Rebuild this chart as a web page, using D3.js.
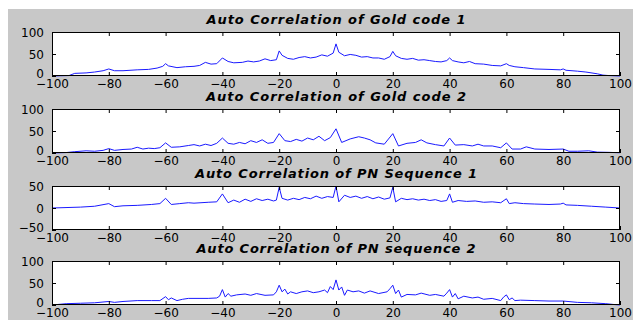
<!DOCTYPE html>
<html>
<head>
<meta charset="utf-8">
<script src="https://cdn.jsdelivr.net/npm/d3@7"></script>
<style>
html,body{margin:0;padding:0;background:#fff;}
svg{display:block;}
</style>
</head>
<body>
<svg id="chart" width="633" height="320"></svg>
<script>
// ---------- DATA ----------
const titles = [
  "Auto Correlation of Gold code 1",
  "Auto Correlation of Gold code 2",
  "Auto Correlation of PN Sequence 1",
  "Auto Correlation of PN sequence 2"
];
const xTicks = [-100, -80, -60, -40, -20, 0, 20, 40, 60, 80, 100];
const yTicks1 = [0, 50, 100];
const yTicks2 = [0, 50, 100];
const yTicks3 = [-50, 0, 50];
const yTicks4 = [0, 50, 100];
const yDomains = [[0, 100], [0, 100], [-50, 50], [0, 100]];

const lags1 = [-100,-97,-94,-92,-88,-85,-82,-80,-78,-75,-70,-66,-63,-61,-60,-59,-56,-53,-50,-48,-46,-44,-42,-40,-38,-36,-33,-31,-29,-27,-25,-23,-21,-20,-19,-17,-15,-13,-11,-9,-7,-5,-3,-1,0,1,3,5,7,9,11,13,15,17,19,20,21,23,25,27,29,31,33,35,37,39,40,41,43,45,47,49,52,55,58,60,61,63,66,70,75,79,80,81,85,88,92,94,96,100];
const vals1 = [0,0.5,1,6,7,9,12,16,12,12,14,15,18,22,28,23,19,21,22,24,31,27,28,41,33,30,31,34,32,34,39,35,37,57,47,40,38,42,44,41,43,48,45,52,73,54,46,49,47,43,44,41,41,38,44,56,46,40,38,40,36,37,35,33,32,35,41,35,32,30,33,28,27,24,23,28,24,21,19,16,15,14,16,13,11,9,5,2,1,0];

const lags2 = [-100,-95,-92,-88,-85,-82,-80,-78,-75,-72,-70,-68,-66,-64,-62,-60,-58,-55,-52,-50,-48,-46,-44,-42,-40,-38,-36,-34,-32,-30,-28,-26,-24,-22,-20,-18,-16,-14,-12,-10,-8,-6,-4,-2,0,2,5,8,10,12,14,17,20,22,25,28,30,32,35,38,40,42,45,48,50,52,55,58,60,62,65,67,70,75,80,82,85,89,92,96,100];
const vals2 = [0,1,3,5,4,6,10,6,8,9,13,9,11,10,12,23,13,14,17,19,16,20,17,22,34,22,20,24,21,28,24,30,22,24,44,28,26,31,27,34,30,38,28,35,55,24,32,37,34,30,23,20,44,16,22,24,30,23,19,16,34,18,19,16,20,16,16,12,23,9,9,14,9,8,9,4,4,5,2,1.5,0.5];

const lags3 = [-100,-90,-85,-80,-78,-75,-70,-65,-62,-60,-58,-55,-52,-50,-45,-42,-40,-38,-36,-34,-32,-30,-28,-26,-24,-22,-21,-20,-19,-17,-15,-13,-11,-9,-7,-5,-3,-1,0,1,3,5,7,9,11,13,15,17,19,20,21,23,25,27,29,31,33,35,37,39,40,41,43,46,49,52,55,58,60,61,63,66,70,75,79,80,81,85,90,95,100];
const vals3 = [0,2,4,10,3,5,6,8,10,22,8,10,12,11,13,14,32,12,18,13,20,15,21,17,20,16,18,47,22,18,22,19,24,21,27,22,26,24,50,14,29,24,27,22,26,21,25,20,23,47,14,22,19,21,18,20,17,19,15,17,32,13,17,15,16,13,14,12,21,10,12,10,9,8,9,11,7,6,4,2,0];

const lags4 = [-100,-95,-90,-85,-80,-78,-75,-70,-65,-62,-60,-59,-58,-56,-54,-52,-50,-45,-42,-41,-40,-39,-38,-37,-35,-32,-30,-28,-25,-22,-21,-20,-19,-18,-17,-16,-14,-12,-10,-8,-6,-4,-3,-2,-1,0,1,2,3,4,6,8,10,12,15,18,19,20,21,22,23,25,28,30,33,35,38,39,40,41,42,43,45,48,50,52,55,58,59,60,61,62,63,65,70,75,80,85,90,95,98,100];
const vals4 = [0,3,4,5,8,6,8,10,10,10,19,12,16,10,13,15,15,15,16,20,35,18,26,20,23,25,22,26,22,23,30,45,30,36,25,30,26,30,32,28,30,34,28,42,35,57,34,41,22,34,30,32,27,32,26,30,37,45,26,34,18,24,23,27,22,24,20,27,35,18,26,14,20,16,18,13,15,10,18,23,12,16,10,11,10,9,9,6,5,3,1,0];

const series = [
  {lags: lags1, vals: vals1, yTicks: yTicks1},
  {lags: lags2, vals: vals2, yTicks: yTicks2},
  {lags: lags3, vals: vals3, yTicks: yTicks3},
  {lags: lags4, vals: vals4, yTicks: yTicks4}
];

// ---------- LAYOUT ----------
const svg = d3.select("#chart");
svg.append("rect").attr("x", 8).attr("y", 9).attr("width", 625).attr("height", 311).attr("fill", "#c8c8c8");

const left = 52, right = 620;
const tops = [32, 109, 186, 261];
const ph = 44;
const titleWidths = [259, 260, 282, 279];
const fontTick = "'DejaVu Sans', Verdana, sans-serif";

const x = d3.scaleLinear().domain([-100, 100]).range([left, right]);

series.forEach((s, i) => {
  const top = tops[i], bottom = top + ph;
  const y = d3.scaleLinear().domain(yDomains[i]).range([bottom, top]);
  const g = svg.append("g");

  g.append("rect").attr("x", left).attr("y", top).attr("width", right - left).attr("height", ph)
    .attr("fill", "#fff");

  const line = d3.line().x((d, k) => x(s.lags[k])).y(d => y(d));
  g.append("path").datum(s.vals).attr("d", line)
    .attr("fill", "none").attr("stroke", "#1a1aff").attr("stroke-width", 1);

  // axes
  const inner = xTicks.slice(1, -1);
  const axB = d3.axisBottom(x).tickValues(xTicks).tickSizeInner(-4).tickSizeOuter(0)
    .tickFormat(d3.format("d"));
  const gb = g.append("g").attr("transform", `translate(0,${bottom})`).call(axB);
  const axT = d3.axisTop(x).tickValues(inner).tickSizeInner(-4).tickSizeOuter(0).tickFormat("");
  const gt = g.append("g").attr("transform", `translate(0,${top})`).call(axT);
  const yInner = s.yTicks.slice(1, -1);
  const axL = d3.axisLeft(y).tickValues(s.yTicks).tickSizeInner(-4).tickSizeOuter(0)
    .tickFormat(d3.format("d"));
  const gl = g.append("g").attr("transform", `translate(${left},0)`).call(axL);
  const axR = d3.axisRight(y).tickValues(yInner).tickSizeInner(-4).tickSizeOuter(0).tickFormat("");
  const gr = g.append("g").attr("transform", `translate(${right},0)`).call(axR);

  [gb, gt, gl, gr].forEach(a => {
    a.select(".domain").remove();
    a.selectAll("line").attr("stroke", "#000");
    a.selectAll("text").attr("font-family", fontTick).attr("font-size", 12).attr("fill", "#000");
  });
  gb.selectAll("text").attr("y", 11.5).attr("dy", null);
  gl.selectAll("text").attr("x", -8).attr("dy", null)
    .attr("y", (d, k) => (k === 0 ? 1.5 : 4.4));

  g.append("rect").attr("x", left + 0.5).attr("y", top + 0.5).attr("width", right - left - 1).attr("height", ph - 1)
    .attr("fill", "none").attr("stroke", "#000").attr("stroke-width", 1);

  g.append("text").attr("x", (left + right) / 2).attr("y", top - 8)
    .attr("text-anchor", "middle").attr("font-family", fontTick).attr("font-size", 13)
    .attr("font-weight", "bold").attr("font-style", "italic")
    .attr("textLength", titleWidths[i]).attr("lengthAdjust", "spacing")
    .text(titles[i]);
});
</script>
</body>
</html>
